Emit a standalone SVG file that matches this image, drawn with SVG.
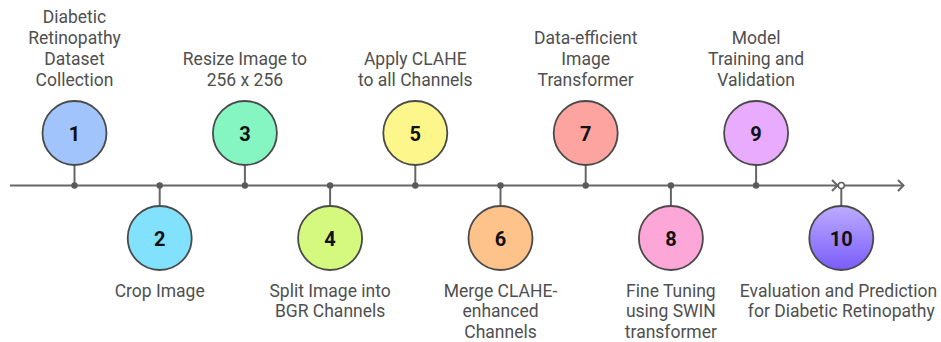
<svg xmlns="http://www.w3.org/2000/svg" width="941" height="342" viewBox="0 0 941 342">
<defs>
<linearGradient id="g10" x1="0" y1="0" x2="0" y2="1">
<stop offset="0" stop-color="#bcacff"/>
<stop offset="1" stop-color="#7a5cfa"/>
</linearGradient>
<style>
.lbl{font-family:Roboto,"Liberation Sans",sans-serif;font-size:17.5px;fill:#4f4f4f;text-anchor:middle}
.num{font-family:Roboto,"Liberation Sans",sans-serif;font-size:20px;font-weight:bold;fill:#111;text-anchor:middle}
.c{stroke:#4a4a4a;stroke-width:1.8}
.stem{stroke:#666;stroke-width:2;fill:none}
.dot{fill:#5a5a5a}
</style>
</defs>
<g id="connectors">
<line class="stem" x1="10" y1="185.5" x2="903" y2="185.5"/>
<polyline class="stem" points="898,180 903.5,185.5 898,191"/>
<polyline class="stem" points="832,180 837.5,185.5 832,191"/>
<line class="stem" x1="74.5" y1="165" x2="74.5" y2="185.5"/>
<line class="stem" x1="159.7" y1="185.5" x2="159.7" y2="206"/>
<line class="stem" x1="244.9" y1="165" x2="244.9" y2="185.5"/>
<line class="stem" x1="330.1" y1="185.5" x2="330.1" y2="206"/>
<line class="stem" x1="415.3" y1="165" x2="415.3" y2="185.5"/>
<line class="stem" x1="500.5" y1="185.5" x2="500.5" y2="206"/>
<line class="stem" x1="585.7" y1="165" x2="585.7" y2="185.5"/>
<line class="stem" x1="670.9" y1="185.5" x2="670.9" y2="206"/>
<line class="stem" x1="756.1" y1="165" x2="756.1" y2="185.5"/>
<line class="stem" x1="841.3" y1="185.5" x2="841.3" y2="206"/>
<circle class="dot" cx="74.5" cy="185.5" r="3.2"/>
<circle class="dot" cx="159.7" cy="185.5" r="3.2"/>
<circle class="dot" cx="244.9" cy="185.5" r="3.2"/>
<circle class="dot" cx="330.1" cy="185.5" r="3.2"/>
<circle class="dot" cx="415.3" cy="185.5" r="3.2"/>
<circle class="dot" cx="500.5" cy="185.5" r="3.2"/>
<circle class="dot" cx="585.7" cy="185.5" r="3.2"/>
<circle class="dot" cx="670.9" cy="185.5" r="3.2"/>
<circle class="dot" cx="756.1" cy="185.5" r="3.2"/>
<circle cx="841.3" cy="185.5" r="3" fill="#fff" stroke="#5a5a5a" stroke-width="1.5"/>
</g>
<g id="node1">
<circle class="c" cx="74.5" cy="133" r="32" fill="#a1c4fd"/>
<text class="num" x="74.5" y="140.5">1</text>
<text class="lbl" x="74.5" y="22.5">Diabetic</text>
<text class="lbl" x="74.5" y="43.5">Retinopathy</text>
<text class="lbl" x="74.5" y="64.5">Dataset</text>
<text class="lbl" x="74.5" y="85.5">Collection</text>
</g>
<g id="node2">
<circle class="c" cx="159.7" cy="238" r="32" fill="#82e1fd"/>
<text class="num" x="159.7" y="245.5">2</text>
<text class="lbl" x="159.7" y="296.5">Crop Image</text>
</g>
<g id="node3">
<circle class="c" cx="244.9" cy="133" r="32" fill="#85f5c1"/>
<text class="num" x="244.9" y="140.5">3</text>
<text class="lbl" x="244.9" y="64.5">Resize Image to</text>
<text class="lbl" x="244.9" y="85.5">256 x 256</text>
</g>
<g id="node4">
<circle class="c" cx="330.1" cy="238" r="32" fill="#d5f97e"/>
<text class="num" x="330.1" y="245.5">4</text>
<text class="lbl" x="330.1" y="296.5">Split Image into</text>
<text class="lbl" x="330.1" y="317">BGR Channels</text>
</g>
<g id="node5">
<circle class="c" cx="415.3" cy="133" r="32" fill="#fdf68a"/>
<text class="num" x="415.3" y="140.5">5</text>
<text class="lbl" x="415.3" y="64.5">Apply CLAHE</text>
<text class="lbl" x="415.3" y="85.5">to all Channels</text>
</g>
<g id="node6">
<circle class="c" cx="500.5" cy="238" r="32" fill="#fdc38b"/>
<text class="num" x="500.5" y="245.5">6</text>
<text class="lbl" x="500.5" y="296.5">Merge CLAHE-</text>
<text class="lbl" x="500.5" y="317">enhanced</text>
<text class="lbl" x="500.5" y="337.5">Channels</text>
</g>
<g id="node7">
<circle class="c" cx="585.7" cy="133" r="32" fill="#fda4a1"/>
<text class="num" x="585.7" y="140.5">7</text>
<text class="lbl" x="585.7" y="43.5">Data-efficient</text>
<text class="lbl" x="585.7" y="64.5">Image</text>
<text class="lbl" x="585.7" y="85.5">Transformer</text>
</g>
<g id="node8">
<circle class="c" cx="670.9" cy="238" r="32" fill="#fda6d8"/>
<text class="num" x="670.9" y="245.5">8</text>
<text class="lbl" x="670.9" y="296.5">Fine Tuning</text>
<text class="lbl" x="670.9" y="317">using SWIN</text>
<text class="lbl" x="670.9" y="337.5">transformer</text>
</g>
<g id="node9">
<circle class="c" cx="756.1" cy="133" r="32" fill="#e8abfd"/>
<text class="num" x="756.1" y="140.5">9</text>
<text class="lbl" x="756.1" y="43.5">Model</text>
<text class="lbl" x="756.1" y="64.5">Training and</text>
<text class="lbl" x="756.1" y="85.5">Validation</text>
</g>
<g id="node10">
<circle class="c" cx="841.3" cy="238" r="32" fill="url(#g10)"/>
<text class="num" x="841.3" y="245.5">10</text>
<text class="lbl" x="838.5" y="296.5">Evaluation and Prediction</text>
<text class="lbl" x="841.3" y="317">for Diabetic Retinopathy</text>
</g>
</svg>
